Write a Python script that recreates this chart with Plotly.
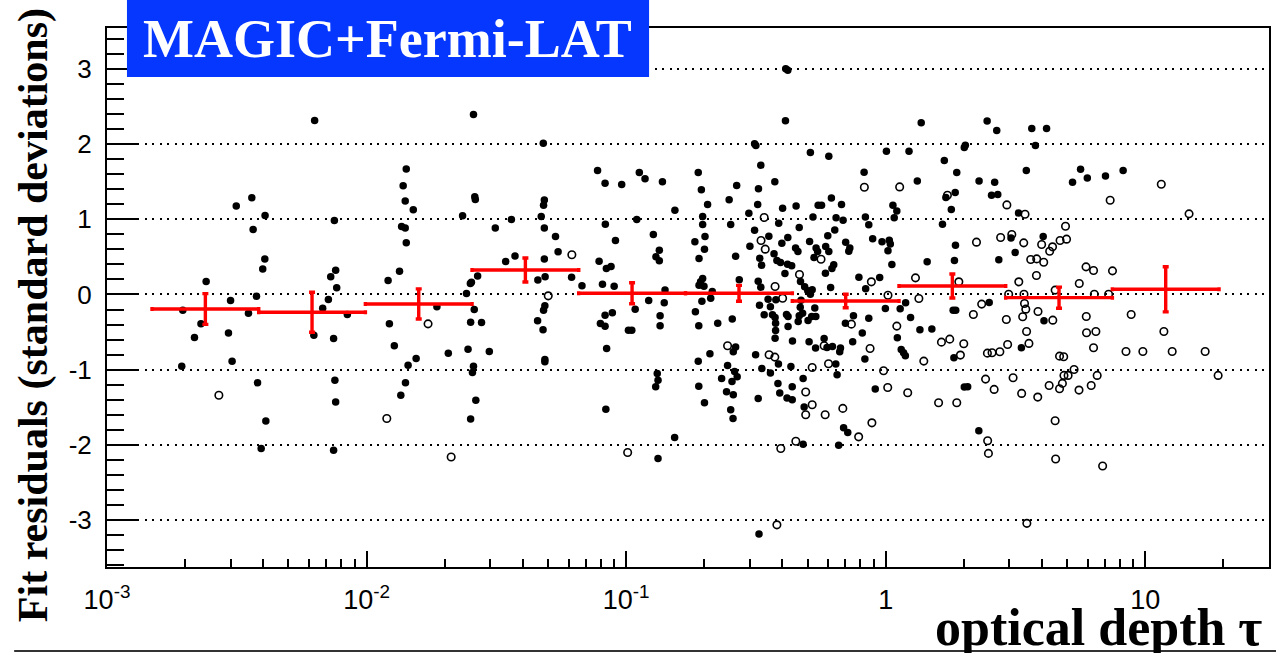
import plotly.graph_objects as go

# ---------------- data ----------------
# log10(optical depth) and fit residual, filled markers
log_tau_filled = [
    -2.708, -2.663, -2.712, -2.638, -2.618, -2.524, -2.532, -2.518, -2.502, -2.442,
    -2.437, -2.391, -2.392, -2.400, -2.424, -2.455, -2.420, -2.388, -2.406, -2.124,
    -2.119, -2.138, -2.115, -2.147, -2.169, -2.074, -2.203, -2.127, -2.122, -2.119,
    -2.127, -1.917, -1.873, -1.847, -1.859, -1.851, -1.820, -1.865, -1.851, -1.847,
    -1.912, -1.729, -1.893, -1.809, -1.840, -1.850, -1.868, -1.685, -1.630, -1.583,
    -1.581, -1.600, -1.596, -1.572, -1.615, -1.585, -1.599, -1.557, -1.609, -1.527,
    -1.588, -1.592, -1.579, -1.599, -1.504, -1.442, -1.464, -1.428, -1.340, -1.315,
    -1.312, -1.327, -1.315, -1.315, -1.318, -1.318, -1.313, -1.341, -1.320, -1.313,
    -1.313, -2.200, -1.588, -1.319,
    # 0.05 - 1
    -1.272, -1.262, -1.210, -1.170, -1.110, -1.081, -1.017, -0.949, -0.927, -0.860,
    -1.080, -0.959, -0.812, -1.041, -1.104, -1.076, -1.058, -1.091, -1.046, -0.895,
    -0.872, -0.885, -0.872, -0.850, -0.853, -0.913, -0.965, -1.081, -1.053, -1.099,
    -1.081, -0.991, -0.978, -0.869, -0.869, -1.075, -0.880, -0.877, -0.886, -1.078,
    -0.813, -0.877, -0.722, -0.710, -0.705, -0.705, -0.735, -0.719, -0.705, -0.713,
    -0.719, -0.700, -0.708, -0.733, -0.720, -0.722, -0.720, -0.698, -0.588, -0.386,
    -0.505, -0.500, -0.481, -0.290, -0.219, -0.083, 0.003, -0.318, -0.181, -0.162,
    -0.146, 0.028, 0.043, 0.033, -0.014, 0.014, 0.018, 0.009, 0.024, -0.023,
    -0.001, 0.045, -0.385, -0.377, -0.488,
    # dense core
    -0.574, -0.490, -0.427, -0.603, -0.686, -0.493, -0.397, -0.345, -0.260, -0.247,
    -0.209, -0.170, -0.527, -0.412, -0.280, -0.191, -0.164, -0.078, -0.065, -0.597,
    -0.696, -0.505, -0.333, -0.196, -0.450, -0.377, -0.293, -0.223, -0.154, -0.050,
    -0.698, -0.523, -0.400, -0.347, -0.338, -0.268, -0.262, -0.231, -0.219, -0.138,
    -0.142, -0.430, -0.578, -0.276, -0.485, -0.419, -0.405, -0.378, -0.362, -0.478,
    -0.200, -0.207, -0.232, -0.388, -0.103, -0.564, -0.491, -0.481, -0.328, -0.312,
    -0.300, -0.290, -0.283, -0.212, -0.077, -0.668, -0.674, -0.453, -0.423, -0.326,
    -0.486, -0.444, -0.329, -0.273, -0.468, -0.436, -0.426, -0.382, -0.376, -0.333,
    -0.320, -0.285, -0.269, -0.591, -0.647, -0.424, -0.337, -0.299, -0.155, -0.124,
    -0.065, -0.376, -0.424, -0.426, -0.359, -0.237, -0.295, -0.090, -0.127, -0.270,
    -0.226, -0.205, -0.174, -0.177, -0.578, -0.587, -0.677, -0.501, -0.413, -0.080,
    -0.192, -0.187, -0.365, -0.477, -0.444, -0.609, -0.582, -0.572, -0.632, -0.592,
    -0.318, -0.415, -0.360, -0.613, -0.587, -0.408, -0.380, -0.360, -0.491, -0.040,
    -0.314, -0.597,
    # tau > 1
    0.137, 0.391, 0.428, 0.563, 0.620, 0.090, 0.307, 0.303, 0.577, 0.226,
    0.274, 0.122, 0.360, 0.420, 0.542, 0.751, 0.720, 0.777, 0.847, 0.915,
    0.232, 0.268, 0.408, 0.432, 0.253, 0.512, 0.219, 0.483, 0.607, 0.269,
    0.499, 0.160, 0.265, 0.436, 0.077, 0.056, 0.399, 0.260, 0.270, 0.096,
    0.610, 0.132, 0.178, 0.523, 0.060, 0.069, 0.076, 0.263, 0.303, 0.316,
    0.359,
]
resid_filled = [
    -0.208, -0.572, -0.953, -0.390, 0.173, -0.080, -0.510, -0.886, 1.174, 1.285,
    0.864, 1.050, 0.470, 0.337, -0.022, -0.248, -1.174, -1.680, -2.047, 0.984,
    0.323, 0.235, 0.089, -0.066, -0.182, -0.266, -0.541, -0.585, -1.139, -1.427,
    -2.069, 0.186, 0.310, 1.666, 1.444, 1.241, 1.125, 0.904, 0.882, 0.687,
    -0.390, -0.164, -0.682, -0.851, -0.939, -1.174, -1.338, -0.780, 1.046, 1.298,
    1.263, 0.146, 0.164, 0.244, 0.013, -0.200, -0.368, -0.372, -0.727, -0.758,
    -0.953, -1.037, -1.405, -1.653, 0.882, 0.997, 0.439, 0.510, 0.191, 0.470,
    0.235, 1.037, 0.882, 1.254, 1.187, -0.208, -0.150, -0.350, -0.470, -0.864,
    -0.895, 2.310, 2.390, 2.010,
    # 0.05 - 1
    0.771, 0.567, 0.230, 0.115, 1.647, 1.479, 1.461, 1.621, 1.537, 1.497,
    0.934, 0.996, 1.120, 0.717, 0.443, 0.345, 0.372, 0.137, 0.111, 0.797,
    0.589, 0.500, 0.447, 0.058, -0.111, -0.080, -0.195, -0.275, -0.244, -0.385,
    -0.421, -0.474, -0.474, -0.283, -0.416, -0.717, -1.050, -1.138, -1.227, -1.523,
    -1.900, -2.179, 1.621, 1.391, 1.036, 0.930, 0.700, 0.478, 0.213, 0.168,
    0.124, 0.111, -0.089, -0.230, -0.416, -0.886, -1.218, -1.439, -1.647, 2.307,
    2.002, 1.980, 1.718, 1.887, 1.838, 1.625, 1.904, -1.989, -2.002, -1.771,
    -1.833, 1.187, 1.110, 1.020, 0.700, 0.720, 0.670, 0.580, 0.400, 0.226,
    -0.186, -0.576, 3.000, 2.980, -3.180,
    # dense core
    1.447, 1.403, 1.496, 1.257, 1.195, 1.195, 1.146, 1.177, 1.186, 1.186,
    1.283, 1.195, 1.080, 0.947, 1.031, 1.018, 0.987, 1.031, 0.925, 0.929,
    0.770, 0.854, 0.889, 0.858, 0.774, 0.757, 0.704, 0.779, 0.695, 0.739,
    0.602, 0.642, 0.681, 0.619, 0.571, 0.619, 0.571, 0.637, 0.571, 0.619,
    0.575, 0.540, 0.509, 0.491, 0.482, 0.451, 0.425, 0.403, 0.381, 0.389,
    0.394, 0.345, 0.283, 0.279, 0.230, 0.195, 0.177, 0.097, 0.173, 0.102,
    0.049, 0.004, 0.062, 0.093, 0.075, 0.040, -0.049, -0.062, -0.071, -0.075,
    -0.142, -0.164, -0.168, -0.181, -0.270, -0.270, -0.305, -0.265, -0.292, -0.283,
    -0.248, -0.292, -0.292, -0.327, -0.381, -0.381, -0.358, -0.345, -0.381, -0.283,
    -0.314, -0.425, -0.478, -0.580, -0.619, -0.584, -0.628, -0.513, -0.628, -0.712,
    -0.704, -0.690, -0.712, -0.761, -0.699, -0.761, -0.788, -0.801, -0.925, -0.858,
    -0.925, -1.066, -0.956, -0.982, -1.044, -0.942, -1.022, -1.094, -1.115, -1.155,
    -1.115, -1.181, -1.226, -1.292, -1.332, -1.310, -1.376, -1.398, -1.381, -1.257,
    -1.496, -1.531,
    # tau > 1
    2.283, 2.305, 2.177, 2.204, 2.204, 1.903, 1.982, 1.951, 1.978, 1.779,
    1.619, 1.509, 1.509, 1.491, 1.646, 1.664, 1.491, 1.549, 1.575, 1.646,
    1.288, 1.354, 1.319, 1.327, 1.128, 1.084, 0.934, 0.752, 0.770, 0.655,
    0.558, 0.434, 0.451, 0.460, -0.111, -0.190, -0.106, -0.208, -0.208, -0.305,
    -0.350, -0.469, -0.460, -0.708, -0.730, -0.775, -0.814, -0.841, -1.230, -1.226,
    -1.810,
]

# open markers
log_tau_open = [
    -2.569, -1.763, -1.922, -1.674, -1.300,
    -1.209, -0.994, -0.404, -0.346, -0.104, -0.053, 0.009, 0.043, -0.008, 0.008,
    -0.419,
    -0.082, -0.468, -0.480, -0.464, -0.249, -0.332, -0.055, -0.426, -0.397, -0.132,
    -0.237, -0.060, -0.609, -0.449, -0.427, -0.220, -0.283, -0.308, -0.283, -0.165,
    -0.233, -0.308,
    1.062, 0.865, 1.169, 0.054, 0.238, 0.467, 0.537, 0.693, 0.350, 0.443,
    0.486, 0.532, 0.601, 0.643, 0.632, 0.672, 0.697, 0.559, 0.582, 0.609,
    0.581, 0.772, 0.801, 0.874, 0.115, 0.282, 0.513, 0.746, 0.474, 0.533,
    0.653, 0.804, 0.859, 0.128, 0.370, 0.535, 0.540, 0.587, 0.338, 0.528,
    0.465, 0.644, 0.773, 0.946, 0.543, 0.774, 0.810, 1.072, 0.247, 0.215,
    0.301, 0.470, 0.552, 0.801, 0.926, 0.991, 1.104, 1.231, 0.392, 0.410,
    0.440, 0.288, 0.670, 0.686, 0.147, 0.726, 0.687, 0.703, 0.815, 1.281,
    0.385, 0.491, 0.681, 0.418, 0.630, 0.670, 0.792, 0.745, 0.085, 0.524,
    0.586, 0.204, 0.274, 0.653, 0.393, 0.396, 0.655, 0.836, 0.544,
]
resid_open = [
    -1.338, -0.390, -1.648, -2.158, -0.018,
    0.527, -2.099, -2.046, -1.949, -1.891, -1.705, -0.010, -0.420, -1.014, -1.236,
    -3.060,
    1.425, 1.022, 0.717, 0.602, 0.469, 0.265, 0.168, 0.106, -0.049, -0.394,
    -0.681, -0.717, -0.681, -0.801, -0.832, -0.920, -0.969, -1.296, -1.465, -1.513,
    -1.597, -1.597,
    1.465, 1.252, 1.071, 1.429, 1.319, 1.190, 1.066, 0.907, 0.695, 0.757,
    0.796, 0.686, 0.664, 0.633, 0.575, 0.717, 0.735, 0.465, 0.473, 0.429,
    0.252, 0.367, 0.319, 0.314, 0.221, 0.168, 0.168, 0.146, 0.004, 0.004,
    0.058, 0.004, 0.004, -0.053, -0.128, -0.119, -0.195, -0.226, -0.265, -0.296,
    -0.332, -0.341, -0.292, -0.265, -0.491, -0.509, -0.491, -0.491, -0.593, -0.633,
    -0.655, -0.664, -0.650, -0.708, -0.757, -0.757, -0.757, -0.757, -0.779, -0.774,
    -0.761, -0.805, -0.819, -0.827, -0.885, -0.996, -1.075, -1.075, -1.075, -1.075,
    -1.124, -1.106, -1.181, -1.261, -1.208, -1.252, -1.208, -1.270, -1.305, -1.314,
    -1.363, -1.438, -1.438, -1.677, -1.942, -2.111, -2.186, -2.279, -3.040,
]

# binned averages (red)
bin_log_center = [-2.621, -2.210, -1.799, -1.388, -0.977, -0.565, -0.154, 0.257, 0.668, 1.079]
bin_half_dex = 0.2056
bin_mean = [-0.193, -0.236, -0.126, 0.325, 0.016, 0.016, -0.086, 0.113, -0.042, 0.069]
bin_err = [0.204, 0.265, 0.200, 0.160, 0.140, 0.105, 0.090, 0.160, 0.140, 0.300]

x_tickvals = [1e-3, 1e-2, 1e-1, 1, 10]
x_ticktext = ["10<sup>-3</sup>", "10<sup>-2</sup>", "10<sup>-1</sup>", "1", "10"]
y_tickvals = [-3, -2, -1, 0, 1, 2, 3]
y_ticktext = ["-3", "-2", "-1", "0", "1", "2", "3"]

# ---------------- figure ----------------
W, H = 1278, 653
ML, MR, MT, MB = 107, 7, 28, 86
PW, PH = W - ML - MR, H - MT - MB


def px(x):
    return (x - ML) / PW


def py(y):
    return (H - MB - y) / PH


tau_f = [10 ** v for v in log_tau_filled]
tau_o = [10 ** v for v in log_tau_open]
bx = [10 ** c for c in bin_log_center]
bplus = [10 ** (c + bin_half_dex) - 10 ** c for c in bin_log_center]
bminus = [10 ** c - 10 ** (c - bin_half_dex) for c in bin_log_center]

fig = go.Figure()
fig.add_trace(go.Scatter(
    x=tau_f, y=resid_filled, mode="markers", hoverinfo="skip",
    marker=dict(symbol="circle", size=7.5, color="black", line=dict(width=0)),
))
fig.add_trace(go.Scatter(
    x=tau_o, y=resid_open, mode="markers", hoverinfo="skip",
    marker=dict(symbol="circle-open", size=7.5, color="black", line=dict(width=1.6, color="black")),
))
fig.add_trace(go.Scatter(
    x=bx, y=bin_mean, mode="markers", hoverinfo="skip",
    marker=dict(size=3, color="#ff0000"),
    error_x=dict(type="data", symmetric=False, array=bplus, arrayminus=bminus,
                 color="#ff0000", thickness=3.4, width=2),
    error_y=dict(type="data", array=bin_err, color="#ff0000", thickness=3.4, width=3),
))

minor_x = [k * 10 ** e for e in range(-3, 2) for k in range(2, 10) if k * 10 ** e < 30]

fig.update_layout(
    width=W, height=H, margin=dict(l=ML, r=MR, t=MT, b=MB),
    paper_bgcolor="white", plot_bgcolor="white", showlegend=False,
    font=dict(family="Liberation Sans, Arial, sans-serif", color="black", size=26),
)
fig.update_xaxes(
    type="log", range=[-3, 1.477],
    tickmode="array", tickvals=x_tickvals, ticktext=x_ticktext,
    ticks="inside", ticklen=16, tickwidth=2, tickcolor="black",
    showline=True, linewidth=2, linecolor="black", mirror=True,
    showgrid=False, zeroline=False, ticklabelstandoff=8,
    tickfont=dict(size=27),
    minor=dict(tickmode="array", tickvals=minor_x, ticks="inside", ticklen=8,
               tickwidth=1.5, tickcolor="black", showgrid=False),
)
fig.update_yaxes(
    range=[-3.62, 3.54],
    tickmode="array", tickvals=y_tickvals, ticktext=y_ticktext,
    ticks="inside", ticklen=32, tickwidth=2, tickcolor="black",
    showline=True, linewidth=2, linecolor="black", mirror=True,
    showgrid=True, gridcolor="black", gridwidth=1.8, griddash="2px,5.5px",
    zeroline=False, ticklabelstandoff=8, tickfont=dict(size=26),
    minor=dict(dtick=0.2, tick0=0, ticks="inside", ticklen=17, tickwidth=1.5,
               tickcolor="black", showgrid=False),
)

# title box
fig.add_shape(type="rect", xref="paper", yref="paper",
              x0=px(127), x1=px(650), y0=py(77), y1=py(0),
              fillcolor="#0637ff", line=dict(width=0), layer="above")
fig.add_annotation(text="<b>MAGIC+Fermi-LAT</b>", xref="paper", yref="paper",
                   x=px(388), y=py(39), xanchor="center", yanchor="middle", showarrow=False,
                   font=dict(family="Liberation Serif, Times New Roman, serif", size=54, color="white"))
# axis titles
fig.add_annotation(text="<b>Fit residuals (standard deviations)</b>", xref="paper", yref="paper",
                   x=px(33), y=py(315), xanchor="center", yanchor="middle", textangle=-90,
                   showarrow=False,
                   font=dict(family="Liberation Serif, Times New Roman, serif", size=42, color="black"))
fig.add_annotation(text="<b>optical depth τ</b>", xref="paper", yref="paper",
                   x=px(1266), y=py(627), xanchor="right", yanchor="middle", showarrow=False,
                   font=dict(family="Liberation Serif, Times New Roman, serif", size=52, color="black"))
# bottom rule
fig.add_shape(type="line", xref="paper", yref="paper",
              x0=px(14), x1=px(1278), y0=py(651), y1=py(651),
              line=dict(color="#333333", width=2), layer="above")

fig.write_html("out.html")
